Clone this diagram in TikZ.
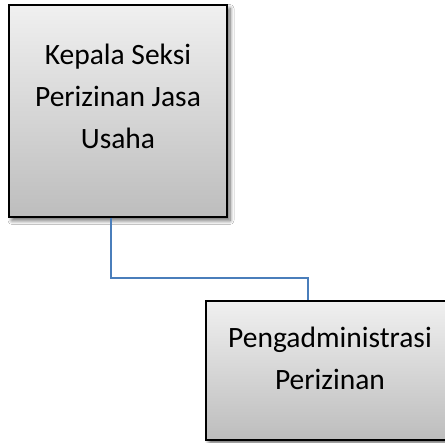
\documentclass[tikz,border=0pt]{standalone}
\usepackage{fontspec}
\setmainfont{Carlito}
\usetikzlibrary{calc,shadows.blur}
\definecolor{boxtop}{HTML}{F0F0F0}
\definecolor{boxbot}{HTML}{BDBDBD}
\definecolor{linkblue}{HTML}{4A7EBB}
\tikzset{
  orgbox/.style={draw=black, line width=2pt, top color=boxtop, bottom color=boxbot,
    blur shadow={shadow xshift=3pt, shadow yshift=-3.5pt, shadow blur steps=8, shadow blur radius=4pt, shadow opacity=60}},
  orgtext/.style={inner sep=0pt, align=center, font=\fontsize{29.5}{42}\selectfont},
  link/.style={draw=linkblue, line width=1.5pt}
}
\begin{document}
\begin{tikzpicture}[x=1pt,y=1pt]
\useasboundingbox (0,0) rectangle (445,443);
\clip (0,0) rectangle (445,443);
\fill[white] (0,0) rectangle (445,443);
% box 1: x 9..227, y(px) 5..217
\node[orgbox, minimum width=218pt, minimum height=212pt, inner sep=0pt] (b1) at (118,332) {};
\node[orgtext] (t1) at (118,346.5) {Kepala Seksi\\Perizinan Jasa\\Usaha};
% box 2: x 206..454, y(px) 301..440
\node[orgbox, minimum width=248pt, minimum height=139pt, inner sep=0pt] (b2) at (330,72.5) {};
\node[orgtext] (t2) at (330,85) {Pengadministrasi\\Perizinan};
% connector
\coordinate (c1) at ($(b1.south)+(-7,0)$);
\coordinate (c2) at ($(b2.north)+(-22,0)$);
\draw[link] (c1) -- (c1 |- 0,165) -- (c2 |- 0,165) -- (c2);
\end{tikzpicture}
\end{document}
